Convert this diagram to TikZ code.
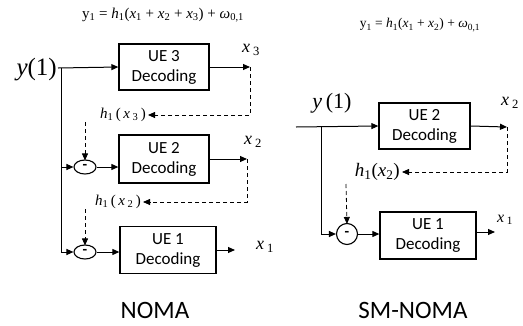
\documentclass[tikz,border=0pt]{standalone}
\usepackage{fontspec}
\setmainfont{Carlito}
\newfontfamily\tms{Liberation Serif}
\usetikzlibrary{arrows.meta,shapes.geometric}
\newcommand{\lsub}[1]{\textsubscript{\upshape #1}}
\tikzset{
  decbox/.style={draw, line width=1.3pt, minimum width=90pt, minimum height=46pt, align=center, inner sep=0pt, font=\fontsize{17}{20}\selectfont},
  minusnode/.style={draw, line width=1.1pt, ellipse, minimum width=22pt, minimum height=14pt, inner sep=0pt, font=\fontsize{15}{15}\selectfont\bfseries},
  minuscirc/.style={draw, line width=1.1pt, circle, minimum size=21pt, inner sep=0pt, font=\fontsize{15}{15}\selectfont\bfseries},
  arr/.style={line width=1pt, -{Triangle[length=7pt,width=6pt]}},
  plain/.style={line width=1pt},
  fb/.style={line width=0.8pt, dash pattern=on 4pt off 3pt, -{Triangle[length=7pt,width=6pt]}},
  lbl/.style={inner sep=0pt, font=\tms\itshape},
  title/.style={inner sep=0pt, font=\fontsize{25}{28}\selectfont}
}
\begin{document}
\begin{tikzpicture}[x=1pt,y=-1pt]
\useasboundingbox (0,0) rectangle (523,325);

% ---------------- NOMA ----------------
\node[lbl, font=\tms\fontsize{15}{17}\selectfont] (eqL) at (163,15)
  {y\lsub{1} = \textit{h}\lsub{1}(\textit{x}\lsub{1} + \textit{x}\lsub{2} + \textit{x}\lsub{3}) + \textit{ω}\lsub{0,1}};
\node[lbl, font=\tms\fontsize{25}{28}\selectfont\itshape, anchor=east] (yL) at (57,70) {y\upshape(1)};
\coordinate (inL) at (58,68);
\coordinate (jL) at (61,68);
\coordinate (bL) at (61,252);
\coordinate (mL2in) at (61,167);

\node[decbox] (ue3) at (164,67) {UE 3\\Decoding};
\node[decbox, minimum height=48pt] (ue2) at (164,159) {UE 2\\Decoding};
\node[decbox, minimum width=96pt, minimum height=47pt] (ue1) at (168,250) {UE 1\\Decoding};

\node[minusnode] (m2) at (85,167) {-};
\node[minusnode] (m1) at (85,252) {-};

\coordinate (o3) at (250,67);
\coordinate (o2) at (247,159);
\coordinate (o1) at (235,250);

\node[lbl, font=\tms\fontsize{18}{20}\selectfont\itshape] (x3L) at (251,50) {x\,\lsub{3}};
\node[lbl, font=\tms\fontsize{18}{20}\selectfont\itshape] (x2L) at (253,142) {x\,\lsub{2}};
\node[lbl, font=\tms\fontsize{18}{20}\selectfont\itshape] (x1L) at (265,247) {x\,\lsub{1}};

\node[lbl, font=\tms\fontsize{15}{17}\selectfont\itshape, anchor=east] (h13) at (146,115)
  {h\lsub{1}\,\upshape(\,\itshape x\,\lsub{3}\upshape\,)};
\node[lbl, font=\tms\fontsize{15}{17}\selectfont\itshape, anchor=east] (h12) at (141,202)
  {h\lsub{1}\,\upshape(\,\itshape x\,\lsub{2}\upshape\,)};
\coordinate (d3) at (85,122);
\coordinate (d2) at (85,209);

\draw[arr] (inL) -- (ue3.west);
\draw[plain] (jL) -- (bL);
\draw[arr] (mL2in) -- (m2.west);
\draw[arr] (bL) -- (m1.west);
\draw[arr] (m2.east) -- (ue2.west |- m2.east);
\draw[arr] (m1.east) -- (ue1.west |- m1.east);
\draw[arr] (ue3.east) -- (o3);
\draw[arr] (ue2.east) -- (o2);
\draw[arr] (ue1.east) -- (o1);
\draw[fb] (o3) |- ([xshift=2pt]h13.east);
\draw[fb] (o2) |- ([xshift=2pt]h12.east);
\draw[fb] (d3) -- ([yshift=-1pt]m2.north);
\draw[fb] (d2) -- ([yshift=-1pt]m1.north);

\node[title] (tL) at (155,310) {NOMA};

% ---------------- SM-NOMA ----------------
\node[lbl, font=\tms\fontsize{13.5}{15}\selectfont] (eqR) at (420,25)
  {y\lsub{1} = \textit{h}\lsub{1}(\textit{x}\lsub{1} + \textit{x}\lsub{2}) + \textit{ω}\lsub{0,1}};
\node[lbl, font=\tms\fontsize{22}{24}\selectfont\itshape] (yR) at (332,103) {y\,\upshape(1)};
\coordinate (inR) at (296,127);
\coordinate (jR) at (321,127);
\coordinate (bR) at (321,234);

\node[decbox, minimum width=91pt] (ue2R) at (424.5,126) {UE 2\\Decoding};
\node[decbox, minimum width=96pt, minimum height=47pt] (ue1R) at (428,235.5) {UE 1\\Decoding};
\node[minuscirc] (mR) at (347,234) {-};

\coordinate (oR2) at (507,127);
\coordinate (oR1) at (495,232);
\node[lbl, font=\tms\fontsize{18}{20}\selectfont\itshape] (x2R) at (510,103) {x\,\lsub{2}};
\node[lbl, font=\tms\fontsize{16}{18}\selectfont\itshape] (x1R) at (505,220) {x\,\lsub{1}};
\node[lbl, font=\tms\fontsize{19}{21}\selectfont\itshape, anchor=east] (hR) at (400,172)
  {h\lsub{1}\upshape(\itshape x\lsub{2}\upshape)};
\coordinate (dR) at (346,184);

\draw[arr] (inR) -- (ue2R.west);
\draw[plain] (jR) -- (bR);
\draw[arr] (bR) -- (mR.west);
\draw[arr] (mR.east) -- (ue1R.west |- mR.east);
\draw[arr] (ue2R.east) -- (oR2);
\draw[arr] (ue1R.east |- oR1) -- (oR1);
\draw[fb] (oR2) |- ([xshift=2pt]hR.east);
\draw[fb] (dR) -- ([yshift=-1pt]mR.north);

\node[title] (tR) at (413,310) {SM-NOMA};
\end{tikzpicture}
\end{document}
